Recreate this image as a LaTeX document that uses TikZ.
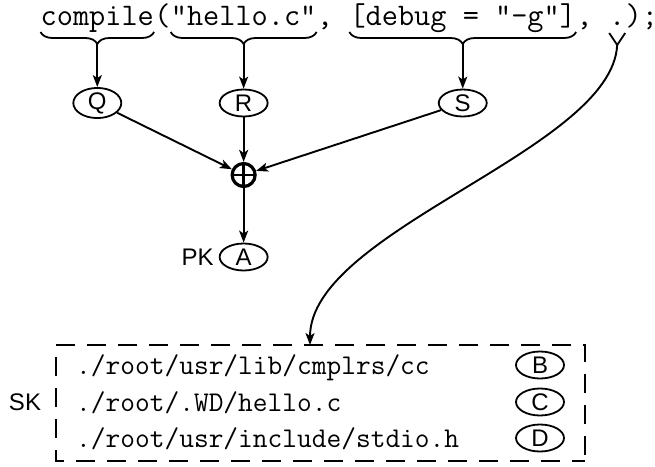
\documentclass[tikz,border=0pt]{standalone}
\usepackage{fontspec}
\newfontfamily\lsans{Liberation Sans}
\usetikzlibrary{arrows.meta,decorations.pathreplacing,calc,shapes.geometric}
\begin{document}
\begin{tikzpicture}[x=1pt,y=1pt,
  code/.style={font=\fontsize{31.4}{36}\selectfont\ttfamily, inner sep=0pt, anchor=base west},
  pathtxt/.style={font=\fontsize{28.6}{34}\selectfont\ttfamily, inner sep=0pt, anchor=base west},
  lab/.style={font=\fontsize{24}{28}\selectfont\lsans, inner sep=0pt},
  ell/.style={draw, ellipse, line width=1.8pt, minimum width=48pt, minimum height=27pt, inner sep=0pt, font=\fontsize{24}{28}\selectfont\lsans},
  arr/.style={line width=1.9pt, -{Stealth[length=12pt,width=9pt,inset=3pt]}},
  brc/.style={line width=1.8pt, decorate, decoration={brace, amplitude=12pt}},
]
\useasboundingbox (0,0) rectangle (655,-466);

\node[code] (t1) at (40.5,-25) {compile};
\node[code] (t2) at (t1.base east) {(};
\node[code] (t3) at (t2.base east) {"hello.c"};
\node[code] (t4) at (t3.base east) {,\hphantom{x}};
\node[code] (t5) at (t4.base east) {[debug = "-g"]};
\node[code] (t6) at (t5.base east) {,\hphantom{x}};
\node[code] (t7) at (t6.base east) {.};
\node[code] (t8) at (t7.base east) {);};

\draw[brc] ($(t1.base east)+(0,-7)$) -- ($(t1.base west)+(0,-7)$);
\draw[brc] ($(t3.base east)+(0,-7)$) -- ($(t3.base west)+(0,-7)$);
\draw[brc] ($(t5.base east)+(0,-7)$) -- ($(t5.base west)+(0,-7)$);
\coordinate (b1) at ($(t1.base)+(0,-19)$);
\coordinate (b3) at ($(t3.base)+(0,-19)$);
\coordinate (b5) at ($(t5.base)+(0,-19)$);

\node[ell] (Q) at ($(t1.base)+(0,-78)$) {Q};
\node[ell] (R) at ($(t3.base)+(0,-78)$) {R};
\node[ell] (S) at ($(t5.base)+(0,-78)$) {S};
\draw[arr] (b1) -- (Q);
\draw[arr] (b3) -- (R);
\draw[arr] (b5) -- (S);

\node[circle, draw, line width=3.2pt, minimum size=23pt, inner sep=0pt] (P) at ($(R)+(0,-72)$) {};
\draw[line width=2.4pt] ($(P.center)+(0,11.5)$) -- ($(P.center)+(0,-11.5)$)
  ($(P.center)+(-11.5,0)$) -- ($(P.center)+(11.5,0)$);
\draw[arr] (Q) -- (P);
\draw[arr] (R) -- (P);
\draw[arr] (S) -- (P);

\node[ell] (A) at ($(P)+(0,-82)$) {A};
\draw[arr] (P) -- (A);
\node[lab, anchor=east] (PK) at ($(A.west)+(-5,0)$) {PK};

\coordinate (yj) at ($(t7.base)+(0,-20)$);
\coordinate (yl) at ($(yj)+(-8,12)$);
\coordinate (yr) at ($(yj)+(8,12)$);
\draw[line width=1.8pt] (yl) -- (yj) -- (yr);

\node[minimum width=529pt, minimum height=116pt, inner sep=0pt, outer sep=0pt] (box) at (320.5,-403) {};
\draw[dash pattern=on 19pt off 12pt, dash phase=25pt, line width=2.3pt]
  (box.south east) -- (box.north east) -- (box.north west) -- (box.south west) -- cycle;
\coordinate (bt) at ($(box.north)+(-10.5,0)$);
\draw[arr] (yj) .. controls (612,-150) and (310,-230) .. (bt);

\node[pathtxt] (p1) at (76,-374) {./root/usr/lib/cmplrs/cc};
\node[pathtxt] (p2) at (76,-411) {./root/.WD/hello.c};
\node[pathtxt] (p3) at (76,-447) {./root/usr/include/stdio.h};
\node[ell] (B) at (540,-365) {B};
\node[ell] (C) at (540,-402) {C};
\node[ell] (D) at (540,-438) {D};
\node[lab] (SK) at (25,-402) {SK};
\end{tikzpicture}
\end{document}
